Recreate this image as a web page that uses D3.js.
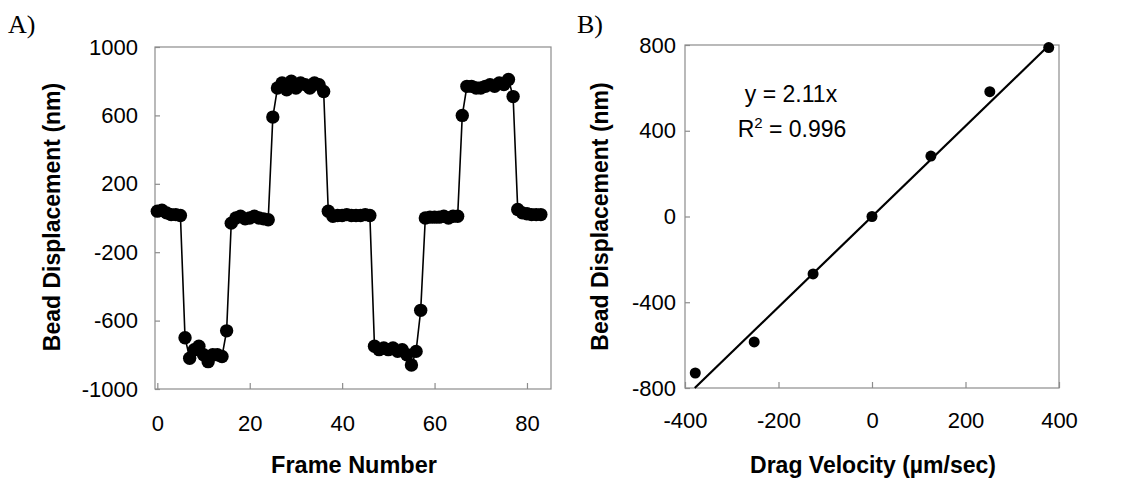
<!DOCTYPE html>
<html>
<head>
<meta charset="utf-8">
<script src="https://cdn.jsdelivr.net/npm/d3@7"></script>
<style>
  body { margin: 0; background: #fff; }
  text { font-family: Arial, "Liberation Sans", sans-serif; fill: #000; }
</style>
</head>
<body>
<svg id="chart" width="1123" height="483"></svg>
<script>
// panel A: bead displacement per frame
var frameDisp = [
  40, 45, 30, 20, 20, 15,
  -700, -820, -770, -750, -800, -840, -800, -800, -810, -660,
  -30, 0, 10, -5, 0, 10, 0, -5, -10,
  590,
  760, 790, 750, 800, 760, 790, 780, 760, 790, 780, 740,
  40, 10, 15, 15, 20, 15, 15, 15, 20, 15,
  -750, -770, -760, -770, -760, -780, -770, -800, -860, -780,
  -540,
  0, 5, 5, 5, 10, 0, 10, 10,
  600,
  770, 770, 760, 760, 770, 780, 770, 790, 780, 810,
  710,
  50, 30, 25, 20, 20, 20
];
var frameTicks = [0, 20, 40, 60, 80];
var dispTicksA = [-1000, -600, -200, 200, 600, 1000];

// panel B: displacement vs drag velocity
var dragVelocity = [-378, -252, -126, 0, 126, 252, 378];
var dragDisp = [-730, -585, -268, 0, 282, 582, 788];
var slope = 2.11;
var velTicks = [-400, -200, 0, 200, 400];
var dispTicksB = [-800, -400, 0, 400, 800];

var svg = d3.select('#chart');
var frameColor = '#8c8c8c';
var plain = d => String(d); // keep ascii hyphen for negatives

function frame(g, x0, y0, x1, y1) {
  g.append('rect')
    .attr('x', x0).attr('y', y0)
    .attr('width', x1 - x0).attr('height', y1 - y0)
    .attr('fill', 'none')
    .attr('stroke', frameColor)
    .attr('stroke-width', 1.2);
}

function styleAxis(g) {
  g.select('.domain').remove();
  g.selectAll('.tick line').attr('stroke', frameColor).attr('stroke-width', 1.2);
  g.selectAll('.tick text')
    .style('font-family', 'Arial, "Liberation Sans", sans-serif')
    .style('font-size', '22px')
    .attr('fill', '#000');
}

// ---------- Panel A ----------
var ax = { left: 155, right: 551, top: 47, bottom: 389 };

var xA = d3.scaleLinear().domain([-0.5, 85.2]).range([ax.left, ax.right]);
var yA = d3.scaleLinear().domain([-1000, 1000]).range([ax.bottom, ax.top]);

var gA = svg.append('g');
frame(gA, ax.left, ax.top, ax.right, ax.bottom);

gA.append('g')
  .attr('transform', 'translate(0,' + ax.bottom + ')')
  .call(d3.axisBottom(xA).tickValues(frameTicks).tickSize(-6).tickPadding(26).tickFormat(plain))
  .call(styleAxis);

gA.append('g')
  .attr('transform', 'translate(' + ax.left + ',0)')
  .call(d3.axisLeft(yA).tickValues(dispTicksA).tickSize(-5).tickPadding(17).tickFormat(plain))
  .call(styleAxis);

gA.append('path')
  .datum(frameDisp)
  .attr('fill', 'none')
  .attr('stroke', '#000')
  .attr('stroke-width', 1.6)
  .attr('d', d3.line().x((d, i) => xA(i)).y(d => yA(d)));

gA.selectAll('circle')
  .data(frameDisp)
  .enter()
  .append('circle')
  .attr('cx', (d, i) => xA(i))
  .attr('cy', d => yA(d))
  .attr('r', 6.7)
  .attr('fill', '#000');

gA.append('text')
  .attr('x', 354)
  .attr('y', 473)
  .style('text-anchor', 'middle')
  .style('font-size', '23.5px')
  .style('font-weight', 'bold')
  .text('Frame Number');

gA.append('text')
  .attr('transform', 'rotate(-90)')
  .attr('x', -217)
  .attr('y', 60)
  .style('text-anchor', 'middle')
  .style('font-size', '23px')
  .style('font-weight', 'bold')
  .text('Bead Displacement (nm)');

svg.append('text')
  .attr('x', 8)
  .attr('y', 33)
  .style('font-family', '"Liberation Serif", "Times New Roman", serif')
  .style('font-size', '26px')
  .text('A)');

// ---------- Panel B ----------
var bx = { left: 685, right: 1059, top: 45, bottom: 388 };

var xB = d3.scaleLinear().domain([-400, 400]).range([bx.left, bx.right]);
var yB = d3.scaleLinear().domain([-800, 800]).range([bx.bottom, bx.top]);

var gB = svg.append('g');
frame(gB, bx.left, bx.top, bx.right, bx.bottom);

gB.append('g')
  .attr('transform', 'translate(0,' + bx.bottom + ')')
  .call(d3.axisBottom(xB).tickValues(velTicks).tickSize(-6).tickPadding(24).tickFormat(plain))
  .call(styleAxis);

gB.append('g')
  .attr('transform', 'translate(' + bx.left + ',0)')
  .call(d3.axisLeft(yB).tickValues(dispTicksB).tickSize(-5).tickPadding(9).tickFormat(plain))
  .call(styleAxis);

// fitted line y = 2.11x, clipped to the plot box
var fitStart = -800 / slope;
var fitEnd = d3.max(dragVelocity);
gB.append('line')
  .attr('x1', xB(fitStart)).attr('y1', yB(slope * fitStart))
  .attr('x2', xB(fitEnd)).attr('y2', yB(slope * fitEnd))
  .attr('stroke', '#000')
  .attr('stroke-width', 2.2);

gB.selectAll('circle')
  .data(dragVelocity)
  .enter()
  .append('circle')
  .attr('cx', d => xB(d))
  .attr('cy', (d, i) => yB(dragDisp[i]))
  .attr('r', 5.5)
  .attr('fill', '#000');

gB.append('text')
  .attr('x', 791)
  .attr('y', 102)
  .style('text-anchor', 'middle')
  .style('font-size', '23px')
  .text('y = 2.11x');

var r2 = gB.append('text')
  .attr('x', 792)
  .attr('y', 137)
  .style('text-anchor', 'middle')
  .style('font-size', '23px');
r2.append('tspan').text('R');
r2.append('tspan').attr('dy', -9).style('font-size', '15px').text('2');
r2.append('tspan').attr('dy', 9).text(' = 0.996');

gB.append('text')
  .attr('x', 873)
  .attr('y', 473)
  .style('text-anchor', 'middle')
  .style('font-size', '23px')
  .style('font-weight', 'bold')
  .text('Drag Velocity (µm/sec)');

gB.append('text')
  .attr('transform', 'rotate(-90)')
  .attr('x', -(bx.top + bx.bottom) / 2)
  .attr('y', 608)
  .style('text-anchor', 'middle')
  .style('font-size', '23px')
  .style('font-weight', 'bold')
  .text('Bead Displacement (nm)');

svg.append('text')
  .attr('x', 577)
  .attr('y', 33)
  .style('font-family', '"Liberation Serif", "Times New Roman", serif')
  .style('font-size', '26px')
  .text('B)');
</script>
</body>
</html>
